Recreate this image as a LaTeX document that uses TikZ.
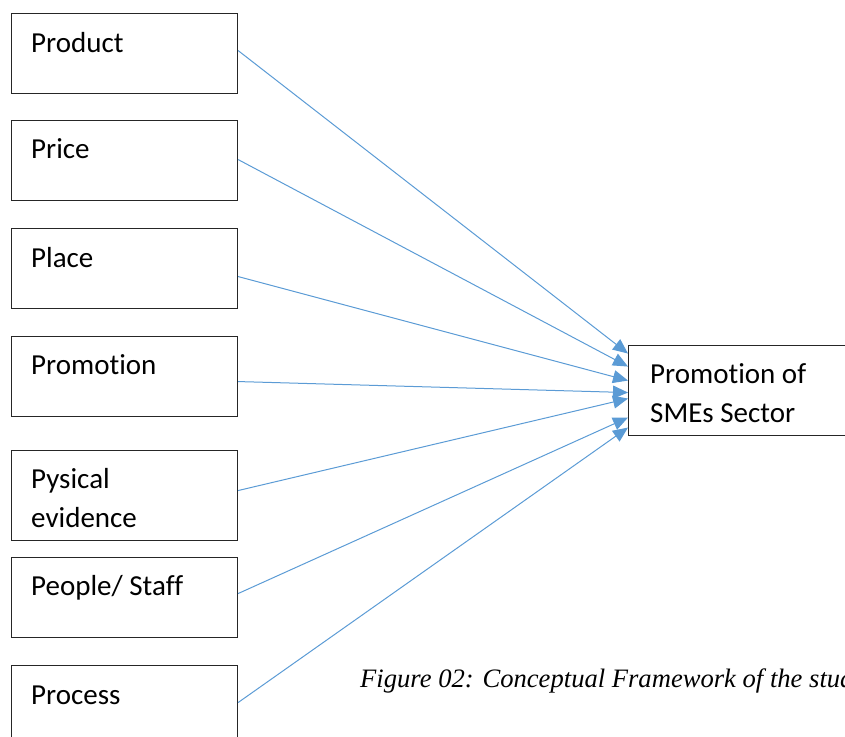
\documentclass[tikz,border=0pt]{standalone}
\usepackage{fontspec}
\setmainfont{Carlito}[Ligatures=NoCommon]
\newfontfamily\capfont{Liberation Serif}
\usetikzlibrary{arrows.meta}
\definecolor{lineblue}{HTML}{5B9BD5}
\tikzset{
  box/.style={draw=black!85, line width=1.1pt, minimum width=226pt, minimum height=80pt, inner sep=0pt, anchor=north west},
  lbl/.style={anchor=base west, inner sep=0pt, font=\fontsize{29}{34}\selectfont},
  arr/.style={draw=lineblue, line width=1pt, -{Triangle[length=15pt, width=13pt, fill=lineblue]}},
}
\begin{document}
\begin{tikzpicture}[x=1pt, y=-1pt]
\useasboundingbox (0,0) rectangle (845,736);
\clip (0,0) rectangle (845,736);
% left boxes
\node[box] (product) at (11,13) {};
\node[box] (price) at (11,120) {};
\node[box] (place) at (11,228) {};
\node[box] (promo) at (11,336) {};
\node[box, minimum height=90pt] (phys) at (11,450) {};
\node[box] (people) at (11,557) {};
\node[box, minimum height=100pt] (process) at (11,665) {};
% right box
\node[box, minimum width=240pt, minimum height=90pt] (smes) at (628,345) {};
% labels
\node[lbl] (tproduct) at (31,52) {Product};
\node[lbl] (tprice) at (31,158) {Price};
\node[lbl] (tplace) at (31,267) {Place};
\node[lbl] (tpromo) at (31,374) {Promotion};
\node[lbl] (tphys1) at (31,488) {Pysical};
\node[lbl] (tphys2) at (31,527) {evidence};
\node[lbl] (tpeople) at (31,595) {People/ Staff};
\node[lbl] (tprocess) at (31,704) {Process};
\node[lbl] (tsmes1) at (650,383) {Promotion of};
\node[lbl] (tsmes2) at (650,422) {SMEs Sector};
% caption
\node[anchor=base west, inner sep=0pt, font=\capfont\itshape\fontsize{26.6}{30}\selectfont] (caption) at (360,687) {Figure 02: Conceptual Framework of the study};
% connectors
\draw[arr] ([yshift=3pt]product.east) -- ([yshift=37pt]smes.west);
\draw[arr] ([yshift=1pt]price.east) -- ([yshift=24pt]smes.west);
\draw[arr] ([yshift=-8pt]place.east) -- ([yshift=10pt]smes.west);
\draw[arr] ([yshift=-5pt]promo.east) -- ([yshift=-2pt]smes.west);
\draw[arr] ([yshift=5pt]phys.east) -- ([yshift=-8pt]smes.west);
\draw[arr] ([yshift=4pt]people.east) -- ([yshift=-27pt]smes.west);
\draw[arr] ([yshift=13pt]process.east) -- ([yshift=-37pt]smes.west);
\end{tikzpicture}
\end{document}
